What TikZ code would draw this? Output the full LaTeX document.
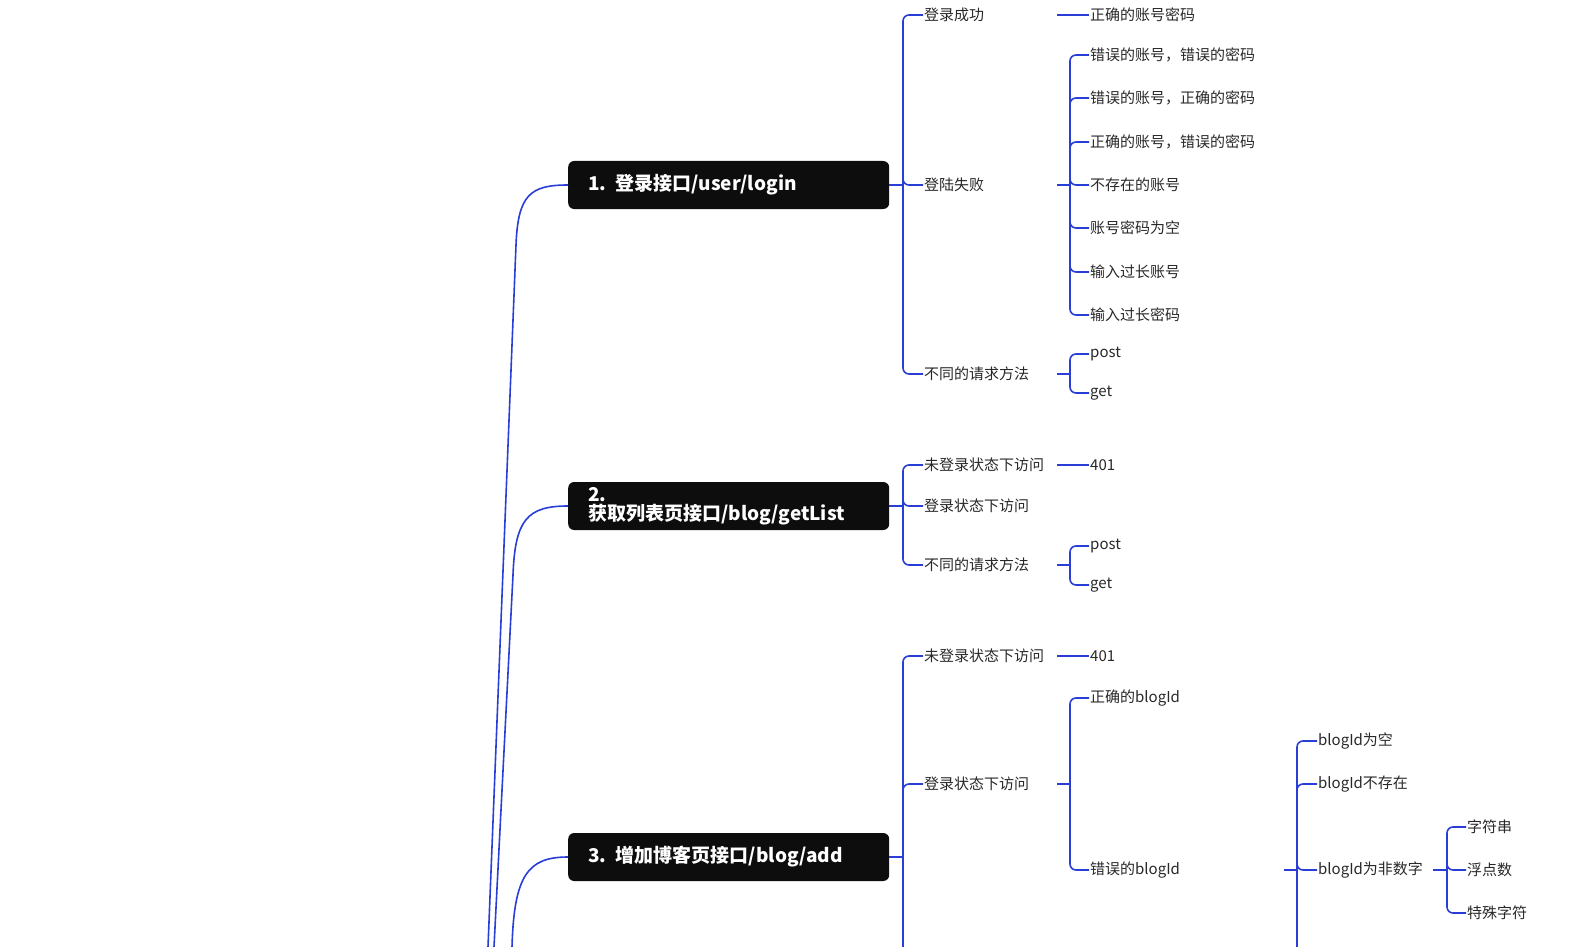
\documentclass[tikz,border=0pt]{standalone}
\usepackage{fontspec}
\setmainfont{Noto Sans CJK SC}
\begin{document}
\begin{tikzpicture}[x=1pt,y=-1pt,
  br/.style={draw=lineblue,line width=1.6pt,rounded corners=6pt},
  lb/.style={anchor=west,inner sep=1pt,text=txt,font=\fontsize{15}{15}\selectfont},
  box/.style={anchor=west,fill=black!95,rounded corners=6pt,minimum width=321pt,minimum height=48pt,text width=281pt,inner xsep=20pt,align=left,text=white,font=\fontsize{19}{19}\selectfont\bfseries}]
\definecolor{lineblue}{RGB}{40,62,215}
\definecolor{txt}{RGB}{40,40,40}
\useasboundingbox (0,0) rectangle (1593,947);
\newcommand\kid[2]{\draw[br] (#1) |- (#2.west);}
% trunk
\node[box] (b1) at (568,185) {1. 登录接口/user/login};
\node[box] (b2) at (568,506) {2. 获取列表页接口/blog/getList};
\node[box] (b3) at (568,857) {3. 增加博客页接口/blog/add};
\coordinate (t1) at (488,947);\coordinate (t2) at (494,947);\coordinate (t3) at (512,947);
\draw[br,rounded corners=0] (t1) -- (516,245) .. controls (518,195) and (530,185) .. (b1.west);
\draw[br,rounded corners=0] (t2) -- (513,575) .. controls (515,520) and (527,506) .. (b2.west);
\draw[br,rounded corners=0] (t3) .. controls (514,875) and (528,857) .. (b3.west);
% box1
\coordinate (j1) at (903,185); \draw[br] (b1.east) -- (j1);
\node[lb] (a1) at (923,15) {登录成功};
\node[lb] (a2) at (923,185) {登陆失败};
\node[lb] (a3) at (923,374) {不同的请求方法};
\kid{j1}{a1}\kid{j1}{a2}\kid{j1}{a3}
\node[lb] (a11) at (1089,15) {正确的账号密码};
\draw[br] (1057,15) -- (a11.west);
\coordinate (j2) at (1070,185); \draw[br] (1057,185) -- (j2);
\foreach \n/\y/\t in {c1/55/{错误的账号，错误的密码},c2/98/{错误的账号，正确的密码},c3/142/{正确的账号，错误的密码},c4/185/不存在的账号,c5/228/账号密码为空,c6/272/输入过长账号,c7/315/输入过长密码}{
  \node[lb] (\n) at (1089,\y) {\t}; \kid{j2}{\n}}
\coordinate (j3) at (1070,374); \draw[br] (1057,374) -- (j3);
\node[lb] (d1) at (1089,354) {post}; \node[lb] (d2) at (1089,393) {get};
\kid{j3}{d1}\kid{j3}{d2}
% box2
\coordinate (k1) at (903,506); \draw[br] (b2.east) -- (k1);
\node[lb] (e1) at (923,465) {未登录状态下访问};
\node[lb] (e2) at (923,506) {登录状态下访问};
\node[lb] (e3) at (923,565) {不同的请求方法};
\kid{k1}{e1}\kid{k1}{e2}\kid{k1}{e3}
\node[lb] (e11) at (1089,465) {401}; \draw[br] (1057,465) -- (e11.west);
\coordinate (k2) at (1070,565); \draw[br] (1057,565) -- (k2);
\node[lb] (f1) at (1089,546) {post}; \node[lb] (f2) at (1089,585) {get};
\kid{k2}{f1}\kid{k2}{f2}
% box3
\coordinate (m1) at (903,857); \draw[br] (b3.east) -- (m1);
\draw[br] (m1) -- (903,947);
\node[lb] (g1) at (923,656) {未登录状态下访问};
\node[lb] (g2) at (923,784) {登录状态下访问};
\kid{m1}{g1}\kid{m1}{g2}
\node[lb] (g11) at (1089,656) {401}; \draw[br] (1057,656) -- (g11.west);
\coordinate (m2) at (1070,784); \draw[br] (1057,784) -- (m2);
\node[lb] (h1) at (1089,698) {正确的blogId}; \node[lb] (h2) at (1089,870) {错误的blogId};
\kid{m2}{h1}\kid{m2}{h2}
\coordinate (m3) at (1297,870); \draw[br] (1284,870) -- (m3); \draw[br] (m3) -- (1297,947);
\node[lb] (i1) at (1317,741) {blogId为空};
\node[lb] (i2) at (1317,784) {blogId不存在};
\node[lb] (i3) at (1317,870) {blogId为非数字};
\kid{m3}{i1}\kid{m3}{i2}\kid{m3}{i3}
\coordinate (m4) at (1447,870); \draw[br] (1433,870) -- (m4);
\node[lb] (n1) at (1466,827) {字符串};
\node[lb] (n2) at (1466,870) {浮点数};
\node[lb] (n3) at (1466,913) {特殊字符};
\kid{m4}{n1}\kid{m4}{n2}\kid{m4}{n3}
\end{tikzpicture}
\end{document}
